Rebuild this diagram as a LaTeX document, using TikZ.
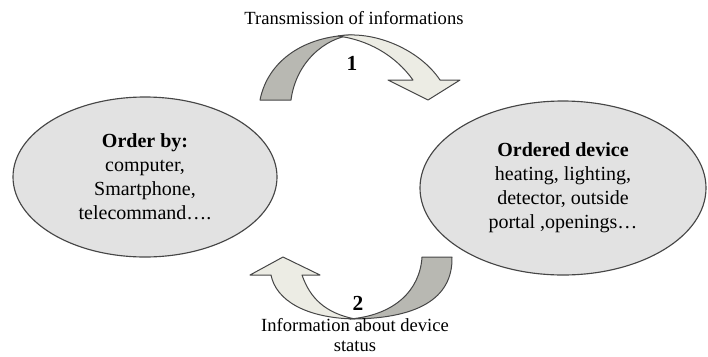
\documentclass[tikz,border=0pt]{standalone}
\usepackage{fontspec}
\setmainfont{Liberation Serif}
\usetikzlibrary{shapes.geometric}
\definecolor{ovalfill}{RGB}{226,226,226}
\definecolor{bandback}{RGB}{184,184,178}
\definecolor{bandfront}{RGB}{236,236,228}
\definecolor{edgegray}{RGB}{70,70,70}

\begin{document}
\begin{tikzpicture}[x=0.7pt,y=-0.7pt,
    oval/.style={ellipse, draw=edgegray, line width=0.8pt, fill=ovalfill, inner sep=0pt,
      align=center, font=\fontsize{14}{16.8}\selectfont},
    back/.style={draw=edgegray, line width=0.7pt, fill=bandback, line join=round},
    front/.style={draw=edgegray, line width=0.7pt, fill=bandfront, line join=round},
    caption/.style={align=center, font=\fontsize{13}{13.5}\selectfont},
    num/.style={font=\bfseries\fontsize{15}{15}\selectfont}]
  \useasboundingbox (0,0) rectangle (708,356);

  \node[oval, minimum width=184.8pt, minimum height=112pt] (order) at (145,177)
    {\textbf{Order by:}\\computer,\\Smartphone,\\telecommand….};
  \node[oval, minimum width=200.2pt, minimum height=121.8pt] (device) at (563,188)
    {\textbf{Ordered device}\\heating, lighting,\\detector, outside\\portal ,openings…};

  % arrow 1
  \draw[back] (260,100) .. controls (268,60) and (305,36) .. (352,35)
    .. controls (325,38) and (296,62) .. (291,100) -- cycle;
  \draw[front] (338,36) .. controls (375,30) and (420,50) .. (440,80)
    -- (460,80) -- (428,100) -- (388,80) -- (413,80)
    .. controls (395,55) and (368,40) .. (338,36) -- cycle;

  % arrow 2
  \draw[back] (452,257) .. controls (453,300) and (415,319) .. (350,319)
    .. controls (395,315) and (420,290) .. (422,257) -- cycle;
  \draw[front] (355,319) .. controls (325,313) and (310,298) .. (302,275)
    -- (320,275) -- (283,257) -- (250,275) -- (271,275)
    .. controls (276,300) and (305,318) .. (355,319) -- cycle;

  \node[caption] (send) at (354,18) {Transmission of informations};
  \node[num] (one) at (352,63) {1};
  \node[num] (two) at (358,303) {2};
  \node[caption] (status) at (355,335) {Information about device\\status};
\end{tikzpicture}
\end{document}
